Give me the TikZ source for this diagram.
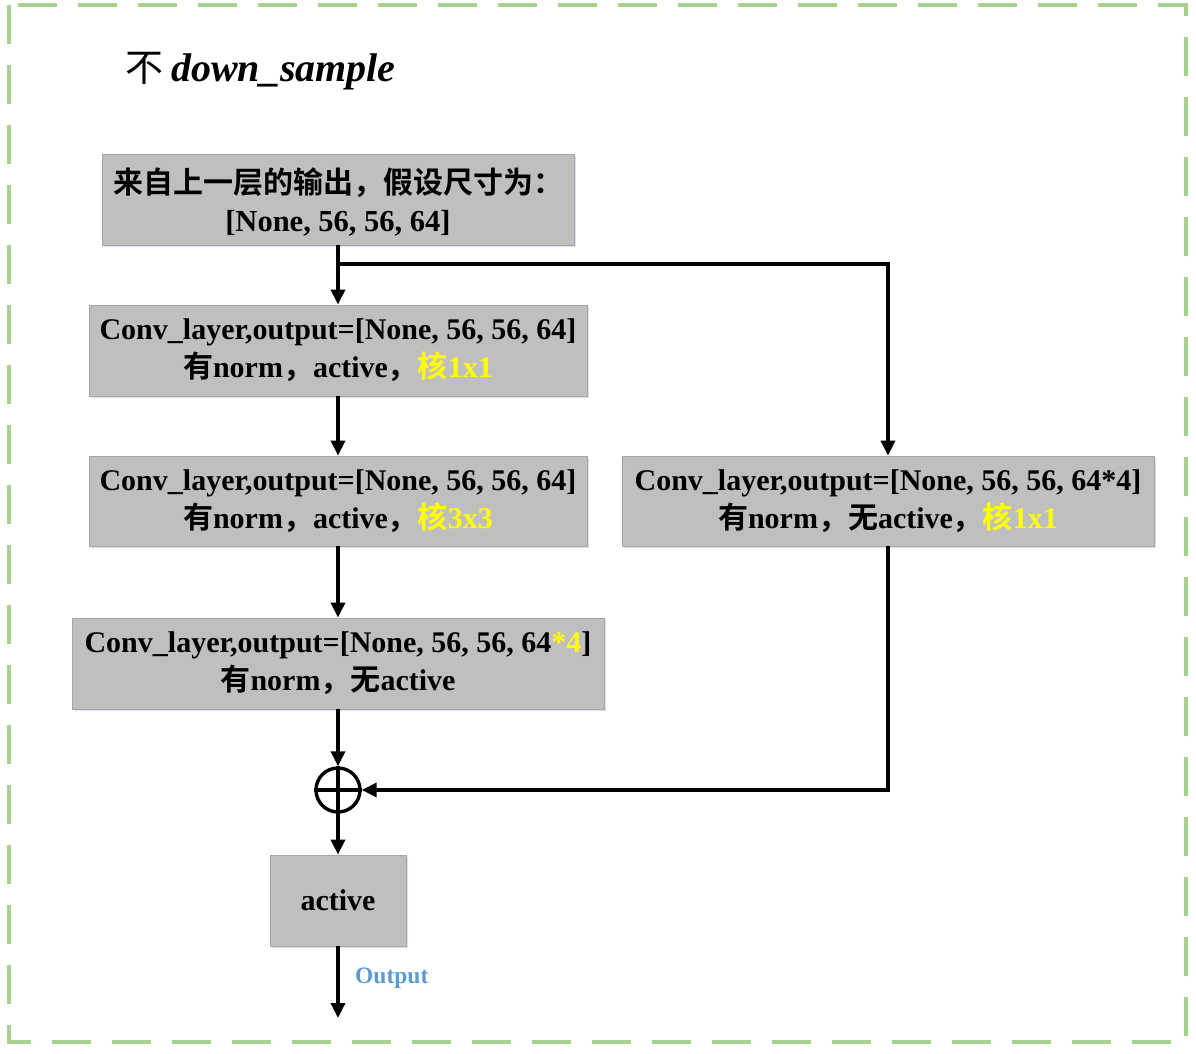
\documentclass[tikz,border=0pt]{standalone}
\usepackage{fontspec}
\setmainfont{Liberation Serif}
\newfontfamily\cjk{Noto Sans CJK SC}[BoldFont={Noto Sans CJK SC Bold}]
\usetikzlibrary{arrows.meta,shadows}
\definecolor{boxgray}{HTML}{BFBFBF}
\definecolor{boxline}{HTML}{A6A6A6}
\definecolor{framegreen}{HTML}{A9D18E}
\definecolor{outblue}{HTML}{5B9BD5}
\definecolor{hl}{HTML}{FFFF00}
\definecolor{shadowc}{HTML}{C9D6E8}
\begin{document}
\begin{tikzpicture}[x=1pt,y=-1pt,
  blk/.style={draw=boxline, line width=0.8pt, fill=boxgray, align=center, inner sep=0pt,
    drop shadow={shadow xshift=1.5pt, shadow yshift=-2pt, fill=shadowc, opacity=0.7},
    font=\fontsize{30}{38}\selectfont\bfseries},
  arr/.style={line width=3.4pt, -{Triangle[length=15pt,width=14pt]}},
  ln/.style={line width=3.4pt}]
\useasboundingbox (0,0) rectangle (1196,1054);
\draw[framegreen, line width=4pt, dash pattern=on 39pt off 21pt] (9,5) rectangle (1186,1042);

\node[anchor=base west, inner sep=0pt] (title) at (125,82)
  {{\fontsize{38}{44}\selectfont\cjk 不}\hspace{8pt}{\fontsize{40}{44}\selectfont\bfseries\itshape down\_sample}};

\node[blk, minimum width=472pt, minimum height=91pt, text depth=0pt] (in) at (338,199.5)
  {{\cjk\bfseries 来自上一层的输出，假设尺寸为：}\\ {\fontsize{30.5}{38}\selectfont [None, 56, 56, 64]}};
\node[blk, minimum width=498pt, minimum height=91pt] (c1) at (338,350.5)
  {Conv\_layer,output=[None, 56, 56, 64]\\ {\cjk 有}norm{\cjk ，}active{\cjk ，}\textcolor{hl}{{\cjk 核}1x1}};
\node[blk, minimum width=498pt, minimum height=90pt] (c2) at (338,501)
  {Conv\_layer,output=[None, 56, 56, 64]\\ {\cjk 有}norm{\cjk ，}active{\cjk ，}\textcolor{hl}{{\cjk 核}3x3}};
\node[blk, minimum width=532pt, minimum height=91pt] (c3) at (338,663.5)
  {Conv\_layer,output=[None, 56, 56, 64\textcolor{hl}{*4}]\\ {\cjk 有}norm{\cjk ，}{\cjk 无}active};
\node[blk, minimum width=532pt, minimum height=90pt] (cr) at (888,501)
  {Conv\_layer,output=[None, 56, 56, 64*4]\\ {\cjk 有}norm{\cjk ，}{\cjk 无}active{\cjk ，}\textcolor{hl}{{\cjk 核}1x1}};
\node[circle, draw, line width=3.4pt, minimum size=44pt, inner sep=0pt] (sum) at (338,790) {};
\node[blk, minimum width=136pt, minimum height=91pt] (act) at (338,900.5) {active};
\node[anchor=west, inner sep=0pt, text=outblue, font=\fontsize{23.5}{26}\selectfont\bfseries] (outlbl) at (355,978) {Output};
\coordinate (split) at (338,264);
\coordinate (outend) at (338,1018);

\draw[ln] (sum.north) -- (sum.south);
\draw[ln] (sum.west) -- (sum.east);
\draw[arr] (in.south) -- (c1.north);
\draw[arr] (split) -| (cr.north);
\draw[arr] (c1.south) -- (c2.north);
\draw[arr] (c2.south) -- (c3.north);
\draw[arr] (c3.south) -- (sum.north);
\draw[arr] (cr.south) |- (sum.east);
\draw[arr] (sum.south) -- (act.north);
\draw[arr] (act.south) -- (outend);
\end{tikzpicture}
\end{document}
